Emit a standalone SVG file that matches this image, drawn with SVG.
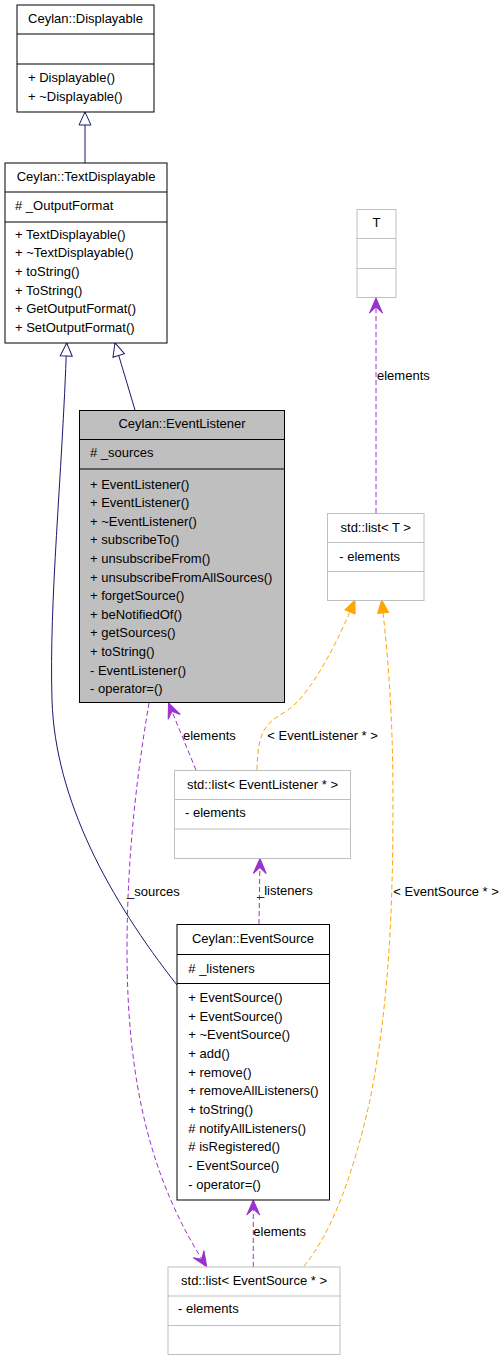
<svg xmlns="http://www.w3.org/2000/svg" width="504" height="1360" viewBox="0 0 504 1360">
<style>
text{font-family:"Liberation Sans",Arial,Helvetica,sans-serif;font-size:13px;fill:#000}
.t{text-anchor:middle}
.cls{fill:#fff;stroke:#000;stroke-width:1}
.cur{fill:#bfbfbf;stroke:#000;stroke-width:1}
.tpl{fill:#fff;stroke:#bfbfbf;stroke-width:1}
.dv{stroke:#000;stroke-width:1}
.dvg{stroke:#bfbfbf;stroke-width:1}
.inh{fill:none;stroke:#191970;stroke-width:1}
.use{fill:none;stroke:#9a32cd;stroke-width:1;stroke-dasharray:5,3}
.ins{fill:none;stroke:#ffa500;stroke-width:1;stroke-dasharray:5,3}
</style>
<defs>
<marker id="tri" markerUnits="userSpaceOnUse" viewBox="-14 -7 15 14" markerWidth="15" markerHeight="14" refX="0" refY="0" orient="auto">
<path d="M0,0 L-13,-6 L-13,6 Z" fill="#fff" stroke="#191970" stroke-width="1"/>
</marker>
<marker id="vee" markerUnits="userSpaceOnUse" viewBox="-16 -8 17 16" markerWidth="17" markerHeight="16" refX="0" refY="0" orient="auto">
<path d="M0,0 L-15,-6.5 L-9,0 L-15,6.5 Z" fill="#9a32cd" stroke="#9a32cd" stroke-width="1"/>
</marker>
<marker id="otri" markerUnits="userSpaceOnUse" viewBox="-15 -7 16 14" markerWidth="16" markerHeight="14" refX="0" refY="0" orient="auto">
<path d="M0,0 L-13,-5.5 L-13,5.5 Z" fill="#ffa500" stroke="#ffa500" stroke-width="1"/>
</marker>
</defs>

<g id="connectors">
<path class="inh" d="M85,163 L85,112" marker-end="url(#tri)"/>
<path class="inh" d="M135,410 L115,343" marker-end="url(#tri)"/>
<path class="inh" d="M177,985 C110,900 55,800 52,700 C49,600 62,480 66.7,343" marker-end="url(#tri)"/>
<path class="use" d="M376,513 L376,298" marker-end="url(#vee)"/>
<text x="377" y="380">elements</text>
<path class="use" d="M196,770 L168.5,703" marker-end="url(#vee)"/>
<text x="183" y="740">elements</text>
<path class="use" d="M259,924 L260,858.5" marker-end="url(#vee)"/>
<text x="257" y="895">_listeners</text>
<path class="use" d="M149,703 C136,780 127,860 127,950 C127,1080 150,1180 206.7,1266.7" marker-end="url(#vee)"/>
<text x="127" y="895.5">_sources</text>
<path class="use" d="M253.3,1267 L253.3,1200" marker-end="url(#vee)"/>
<text x="253.3" y="1236">elements</text>
<path class="ins" d="M257,770 C258,735 262,725 285,712 C305,700 330,660 355,600" marker-end="url(#otri)"/>
<text x="267.3" y="740">&lt; EventListener * &gt;</text>
<path class="ins" d="M304,1266 C330,1235 352,1180 370,1100 C390,1000 393,900 393,800 C393,700 386,640 381.7,600" marker-end="url(#otri)"/>
<text x="393.3" y="895.5">&lt; EventSource * &gt;</text>
</g>

<g id="Displayable">
<rect class="cls" x="17" y="5" width="137" height="107"/>
<line class="dv" x1="17" y1="34" x2="154" y2="34"/>
<line class="dv" x1="17" y1="64" x2="154" y2="64"/>
<text class="t" x="85.5" y="23">Ceylan::Displayable</text>
<text x="28" y="82">+ Displayable()</text>
<text x="28" y="101">+ ~Displayable()</text>
</g>

<g id="TextDisplayable">
<rect class="cls" x="5" y="163" width="162" height="180"/>
<line class="dv" x1="5" y1="192" x2="167" y2="192"/>
<line class="dv" x1="5" y1="222" x2="167" y2="222"/>
<text class="t" x="86" y="180.5">Ceylan::TextDisplayable</text>
<text x="15" y="209.5"># _OutputFormat</text>
<text x="15" y="238.5">+ TextDisplayable()</text>
<text x="15" y="257.2">+ ~TextDisplayable()</text>
<text x="15" y="275.9">+ toString()</text>
<text x="15" y="294.6">+ ToString()</text>
<text x="15" y="313.3">+ GetOutputFormat()</text>
<text x="15" y="332">+ SetOutputFormat()</text>
</g>

<g id="EventListener">
<rect class="cur" x="79.5" y="410.5" width="205" height="292"/>
<line class="dv" x1="79.5" y1="439.5" x2="284.5" y2="439.5"/>
<line class="dv" x1="79.5" y1="469" x2="284.5" y2="469"/>
<text class="t" x="182" y="428">Ceylan::EventListener</text>
<text x="90" y="457"># _sources</text>
<text x="90" y="488.5">+ EventListener()</text>
<text x="90" y="507.1">+ EventListener()</text>
<text x="90" y="525.7">+ ~EventListener()</text>
<text x="90" y="544.3">+ subscribeTo()</text>
<text x="90" y="562.9">+ unsubscribeFrom()</text>
<text x="90" y="581.5">+ unsubscribeFromAllSources()</text>
<text x="90" y="600.1">+ forgetSource()</text>
<text x="90" y="618.7">+ beNotifiedOf()</text>
<text x="90" y="637.3">+ getSources()</text>
<text x="90" y="655.9">+ toString()</text>
<text x="90" y="674.5">- EventListener()</text>
<text x="90" y="693.1">- operator=()</text>
</g>

<g id="T">
<rect class="tpl" x="357" y="209.5" width="39" height="88"/>
<line class="dvg" x1="357" y1="238.5" x2="396" y2="238.5"/>
<line class="dvg" x1="357" y1="268.5" x2="396" y2="268.5"/>
<text class="t" x="376.5" y="227">T</text>
</g>

<g id="listT">
<rect class="tpl" x="327.5" y="513.5" width="96.5" height="87"/>
<line class="dvg" x1="327.5" y1="542.5" x2="424" y2="542.5"/>
<line class="dvg" x1="327.5" y1="571.5" x2="424" y2="571.5"/>
<text class="t" x="375.7" y="532">std::list&lt; T &gt;</text>
<text x="339.3" y="560.5">- elements</text>
</g>

<g id="listEventListener">
<rect class="tpl" x="174.5" y="770.5" width="176" height="88"/>
<line class="dvg" x1="174.5" y1="799.5" x2="350.5" y2="799.5"/>
<line class="dvg" x1="174.5" y1="829" x2="350.5" y2="829"/>
<text class="t" x="262.5" y="789">std::list&lt; EventListener * &gt;</text>
<text x="185" y="817">- elements</text>
</g>

<g id="EventSource">
<rect class="cls" x="177" y="924.5" width="152.5" height="275.5"/>
<line class="dv" x1="177" y1="954.5" x2="329.5" y2="954.5"/>
<line class="dv" x1="177" y1="983.5" x2="329.5" y2="983.5"/>
<text class="t" x="253" y="943">Ceylan::EventSource</text>
<text x="188.3" y="973"># _listeners</text>
<text x="188.3" y="1001.8">+ EventSource()</text>
<text x="188.3" y="1020.5">+ EventSource()</text>
<text x="188.3" y="1039.2">+ ~EventSource()</text>
<text x="188.3" y="1057.9">+ add()</text>
<text x="188.3" y="1076.6">+ remove()</text>
<text x="188.3" y="1095.3">+ removeAllListeners()</text>
<text x="188.3" y="1114">+ toString()</text>
<text x="188.3" y="1132.7"># notifyAllListeners()</text>
<text x="188.3" y="1151.4"># isRegistered()</text>
<text x="188.3" y="1170.1">- EventSource()</text>
<text x="188.3" y="1188.8">- operator=()</text>
</g>

<g id="listEventSource">
<rect class="tpl" x="168" y="1267" width="172" height="87.5"/>
<line class="dvg" x1="168" y1="1296" x2="340" y2="1296"/>
<line class="dvg" x1="168" y1="1325.5" x2="340" y2="1325.5"/>
<text class="t" x="254" y="1284.5">std::list&lt; EventSource * &gt;</text>
<text x="178" y="1313">- elements</text>
</g>
</svg>
